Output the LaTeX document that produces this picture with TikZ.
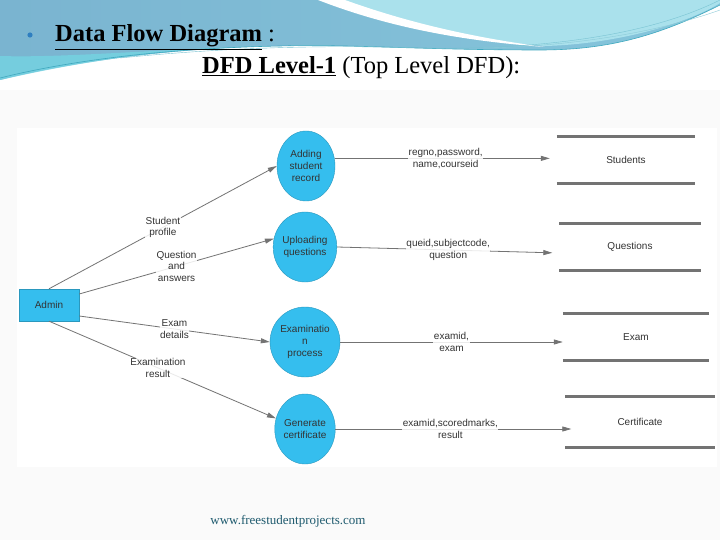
\documentclass[tikz,border=0pt]{standalone}
\usepackage{fontspec}
\setmainfont{Liberation Serif}
\newfontfamily\diagfont{Liberation Sans}
\usetikzlibrary{shapes.geometric,arrows.meta,calc}
\definecolor{procblue}{HTML}{35BEEE}
\definecolor{linegray}{HTML}{737373}
\definecolor{txtgray}{HTML}{333333}
\definecolor{wave1}{HTML}{7AB4D0}
\definecolor{wave2}{HTML}{86C6DC}
\definecolor{wavelight}{HTML}{AAE1EC}
\definecolor{wavecyan}{HTML}{74D4E2}
\definecolor{waveline}{HTML}{3FA9BF}
\definecolor{urlcol}{HTML}{1E5A6E}
\definecolor{framegray}{HTML}{FAFAFA}
\definecolor{bulletblue}{HTML}{2F7FC0}
\tikzset{
  proc/.style={ellipse, fill=procblue, draw=procblue!80!black, line width=0.4pt,
    minimum width=58pt, minimum height=70pt, inner sep=0pt, align=center,
    font=\diagfont\fontsize{10}{12}\selectfont, text=txtgray},
  ent/.style={rectangle, fill=procblue, draw=procblue!80!black, minimum width=60pt,
    minimum height=32pt, font=\diagfont\fontsize{10}{12}\selectfont, text=txtgray},
  storebox/.style={rectangle, minimum height=47pt, font=\diagfont\fontsize{10}{12}\selectfont, text=txtgray},
  storeline/.style={draw=linegray, line width=3pt},
  flow/.style={draw=linegray, line width=0.8pt, -{Triangle[length=9pt,width=5pt]}},
  flowlab/.style={fill=white, fill opacity=0.85, text opacity=1, inner sep=0.5pt, align=center, text=txtgray,
    font=\diagfont\fontsize{10}{11.5}\selectfont},
}
\begin{document}
\begin{tikzpicture}[x=1pt,y=-1pt]
\useasboundingbox (0,0) rectangle (720,540);
\fill[white] (0,0) rectangle (720,540);
% faint frame of the pasted diagram
\fill[framegray] (0,90) rectangle (720,540);
\fill[white] (17,128) rectangle (717,467);
% header waves
\shade[left color=wave1, right color=wave2] (0,0) -- (720,0) -- (720,5)
  .. controls (660,35) and (610,50) .. (540,50)
  .. controls (420,50) and (350,44) .. (280,46)
  .. controls (180,48) and (80,60) .. (0,80) -- cycle;
\fill[wavecyan, opacity=0.8] (0,56) .. controls (60,58) and (150,50) .. (260,46)
  .. controls (150,50) and (70,64) .. (0,80) -- cycle;
\fill[wavelight] (340,0) .. controls (390,22) and (460,40) .. (545,46)
  .. controls (620,44) and (690,22) .. (720,3) -- (720,0) -- cycle;
\fill[white] (318,0) .. controls (380,24) and (450,40) .. (545,47)
  .. controls (460,36) and (395,18) .. (345,0) -- cycle;
\draw[waveline, line width=0.6pt] (0,78) .. controls (80,58) and (180,48) .. (280,46)
  .. controls (350,44) and (420,50) .. (540,50) .. controls (610,50) and (660,35) .. (720,5);
\draw[waveline!70, line width=0.4pt] (120,58) .. controls (200,50) and (300,44) .. (420,48)
  .. controls (520,50) and (640,40) .. (720,0);
\draw[waveline!60, line width=0.4pt] (480,48) .. controls (560,47) and (650,35) .. (720,10);
% title
\fill[bulletblue] (30,35) circle (2.6) coordinate (bul);
\node[anchor=base west, inner sep=0pt, font=\fontsize{24.5}{28}\selectfont] (t1) at (55,42)
  {\textbf{\underline{Data Flow Diagram}} :};
\node[anchor=base west, inner sep=0pt, font=\fontsize{24.5}{28}\selectfont] (t2) at (202,74)
  {\textbf{\underline{DFD Level-1}} (Top Level DFD):};
% entity
\node[ent] (admin) at (49,305) {Admin};
% processes
\node[proc] (c1) at (306,166) {Adding\\student\\record};
\node[proc] (c2) at (305,247) {Uploading\\questions};
\node[proc] (c3) at (305,342) {Examinatio\\n\\process};
\node[proc] (c4) at (305,429) {Generate\\certificate};
% stores
\node[storebox, minimum width=138pt] (s1) at (626,160) {Students};
\node[storebox, minimum width=141pt] (s2) at (630,247) {Questions};
\node[storebox, minimum width=146pt] (s3) at (636,337) {Exam};
\node[storebox, minimum width=149pt, minimum height=51pt] (s4) at (640,422) {Certificate};
\foreach \s in {s1,s2,s3,s4}{
  \draw[storeline] (\s.north west) -- (\s.north east);
  \draw[storeline] (\s.south west) -- (\s.south east);
}
% flows admin -> processes
\draw[flow] (admin.north) -- node[flowlab, pos=0.5] {Student\\profile} (c1.west);
\draw[flow] (admin.20) -- node[flowlab, pos=0.5] {Question\\and\\answers} (c2.165);
\draw[flow] (admin.-20) -- node[flowlab, pos=0.5] {Exam\\details} (c3.west);
\draw[flow] (admin.south) -- node[flowlab, pos=0.48] {Examination\\result} (c4.160);
% flows processes -> stores
\draw[flow, shorten >=7pt] (c1.15) -- node[flowlab, pos=0.5] {regno,password,\\name,courseid} (s1.west |- c1.15);
\draw[flow, shorten >=7pt] (c2.east) -- node[flowlab, pos=0.5] {queid,subjectcode,\\question} ($(s2.west)+(0,6)$);
\draw[flow] (c3.east) -- node[flowlab, pos=0.5] {examid,\\exam} (s3.west |- c3.east);
\draw[flow, shorten >=-6pt] (c4.east) -- node[flowlab, pos=0.5] {examid,scoredmarks,\\result} (s4.west |- c4.east);
% footer
\node[text=urlcol, font=\fontsize{13}{15}\selectfont] (url) at (288,521) {www.freestudentprojects.com};
\end{tikzpicture}
\end{document}
